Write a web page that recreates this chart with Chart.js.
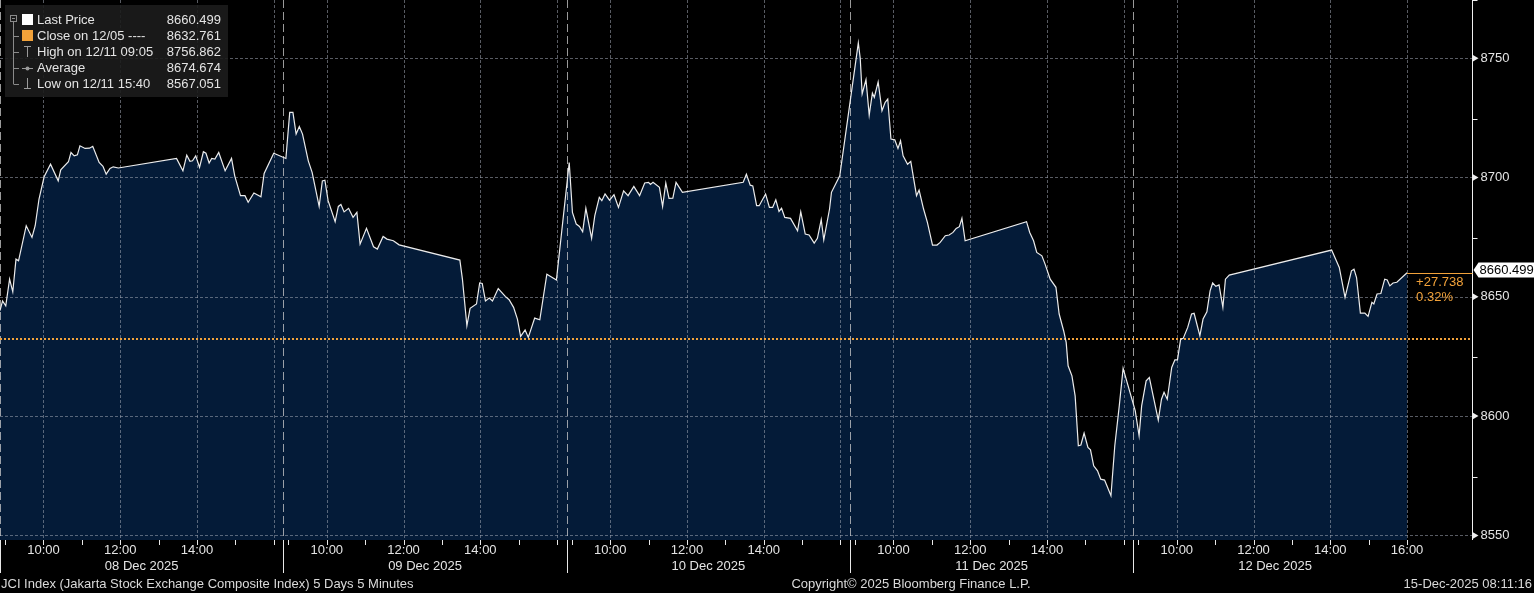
<!DOCTYPE html>
<html><head><meta charset="utf-8">
<script src="https://cdn.jsdelivr.net/npm/chart.js@4.4.1/dist/chart.umd.min.js"></script>
<style>html,body{margin:0;padding:0;background:#000;overflow:hidden}canvas{display:block}</style>
</head><body>
<canvas id="c" width="1534" height="593"></canvas>
<script>
// ---------------- DATA ----------------
const dayLabels = ['08 Dec 2025','09 Dec 2025','10 Dec 2025','11 Dec 2025','12 Dec 2025'];

const d08Times  = ['08:52','08:56','09:01','09:07','09:12','09:17','09:21','09:33','09:42','09:47','09:53','10:01','10:11','10:23','10:27','10:39','10:43','10:48','10:53','10:57','11:05','11:12','11:17','11:27','11:33','11:38','11:44','11:49','11:57','13:28','13:38','13:44','13:49','13:53','13:58','14:04','14:10','14:14','14:19','14:23','14:28','14:34','14:44','14:54','14:59','15:08','15:15','15:20','15:29','15:40','15:45','16:00'];
const d08Prices = [8644.6,8648.7,8646.6,8657.8,8652.5,8666.2,8665.5,8680.2,8675.3,8680.2,8691.4,8700.7,8706.0,8699.0,8703.6,8707.0,8710.9,8709.5,8709.9,8713.7,8712.6,8712.7,8713.5,8706.7,8705.1,8701.8,8704.2,8704.9,8704.4,8708.4,8703.2,8709.8,8707.2,8707.4,8709.5,8704.7,8711.2,8710.6,8706.5,8708.4,8708.1,8710.9,8703.2,8708.4,8701.1,8692.8,8692.8,8690.0,8693.9,8692.3,8702.1,8710.6];

const d09Times  = ['08:56','09:02','09:07','09:12','09:17','09:22','09:31','09:37','09:48','09:53','09:57','10:02','10:13','10:18','10:22','10:27','10:34','10:41','10:47','10:52','11:02','11:13','11:19','11:28','11:34','11:44','11:53','13:28','13:32','13:39','13:44','13:54','13:59','14:03','14:08','14:14','14:19','14:28','14:39','14:45','14:52','14:58','15:03','15:10','15:15','15:25','15:33','15:44','15:59'];
const d09Prices = [8708.4,8727.7,8727.7,8718.6,8721.8,8718.6,8707.4,8702.6,8688.3,8699.0,8699.3,8690.7,8681.9,8688.3,8689.1,8686.0,8687.5,8683.7,8685.8,8672.5,8679.1,8671.4,8670.4,8675.7,8674.6,8673.9,8672.2,8665.8,8657.8,8638.3,8645.6,8647.4,8656.2,8656.0,8648.7,8649.9,8648.7,8653.9,8650.6,8649.2,8646.0,8641.1,8633.8,8636.5,8633.4,8641.5,8640.8,8659.9,8657.5];

const d10Times  = ['08:56','09:01','09:07','09:12','09:17','09:22','09:31','09:36','09:43','09:47','09:52','09:59','10:06','10:13','10:21','10:28','10:37','10:46','10:54','11:00','11:03','11:07','11:17','11:22','11:27','11:32','11:38','11:43','11:53','13:28','13:33','13:39','13:43','13:49','13:53','14:03','14:09','14:14','14:19','14:24','14:28','14:33','14:42','14:53','14:58','15:05','15:11','15:19','15:24','15:30','15:34','15:43','15:46','15:59'];
const d10Prices = [8706.7,8685.8,8680.9,8679.9,8677.7,8687.5,8674.9,8684.4,8692.1,8690.7,8693.5,8690.9,8693.2,8687.9,8694.8,8692.8,8696.7,8692.8,8698.1,8698.4,8697.5,8698.4,8696.3,8688.3,8698.1,8691.7,8691.8,8698.4,8694.2,8698.4,8701.8,8697.2,8696.9,8688.6,8688.6,8693.5,8687.9,8687.9,8691.1,8686.2,8687.5,8683.7,8683.3,8678.1,8686.0,8676.7,8676.3,8672.9,8674.9,8682.7,8674.3,8687.2,8694.2,8701.1];

const d11Times  = ['09:00','09:05','09:08','09:11','09:17','09:22','09:27','09:30','09:36','09:42','09:47','09:51','09:56','10:02','10:07','10:11','10:15','10:22','10:27','10:36','10:40','10:47','10:53','11:01','11:08','11:13','11:21','11:27','11:33','11:38','11:43','11:47','11:52','13:28','13:33','13:39','13:44','13:52','13:57','14:05','14:14','14:19','14:26','14:30','14:33','14:39','14:44','14:49','14:53','14:58','15:04','15:08','15:13','15:19','15:24','15:30','15:34','15:40','15:46','15:53','15:59'];
const d11Prices = [8747.2,8756.862,8750.3,8735.4,8741.4,8726.6,8735.8,8734.0,8740.5,8728.4,8731.9,8733.3,8716.5,8716.2,8712.6,8715.8,8709.5,8706.0,8707.2,8692.8,8695.1,8687.2,8681.6,8672.1,8672.1,8673.2,8676.0,8676.3,8677.4,8679.1,8679.8,8683.3,8673.9,8681.9,8677.4,8673.9,8669.0,8667.6,8664.1,8657.8,8654.4,8643.2,8636.2,8631.3,8621.5,8617.3,8608.9,8588.0,8588.3,8593.3,8587.3,8586.3,8579.6,8577.5,8574.0,8573.6,8571.0,8567.051,8588.0,8604.7,8620.4];

const d12Times  = ['08:55','09:01','09:05','09:12','09:17','09:23','09:31','09:36','09:40','09:45','09:52','09:57','10:01','10:06','10:10','10:17','10:23','10:27','10:36','10:41','10:47','10:52','10:56','11:01','11:06','11:12','11:16','11:22','14:02','14:14','14:23','14:33','14:37','14:41','14:47','14:54','14:59','15:05','15:08','15:13','15:19','15:25','15:29','15:33','15:38','15:44','16:00'];
const d12Prices = [8602.6,8592.2,8604.7,8615.2,8616.6,8608.9,8598.7,8607.5,8610.4,8607.5,8620.8,8624.0,8624.0,8632.7,8633.0,8637.6,8643.2,8643.5,8634.1,8641.1,8644.1,8652.9,8656.2,8654.8,8655.4,8646.0,8657.8,8659.5,8670.0,8662.7,8650.2,8661.3,8662.0,8658.5,8643.6,8643.6,8642.2,8648.1,8647.4,8651.6,8651.8,8657.8,8657.5,8655.0,8656.2,8656.5,8660.499];

const yTickValues  = [8550, 8600, 8650, 8700, 8750];
const yTickLabels  = ['8550', '8600', '8650', '8700', '8750'];
const hourTicks    = ['09:00','10:00','11:00','12:00','13:00','14:00','15:00','16:00'];
const gridHours    = ['10:00','12:00','14:00','16:00'];
const labelHours   = ['10:00','12:00','14:00'];
const lastDayExtraLabel = '16:00';

const lastPrice    = 8660.499;
const prevClose    = 8632.761;
const changeText   = '+27.738';
const changePct    = '0.32%';
const legendLabels = ['Last Price','Close on 12/05 ----','High on 12/11 09:05','Average','Low on 12/11 15:40'];
const legendValues = ['8660.499','8632.761','8756.862','8674.674','8567.051'];
const footerLeft   = 'JCI Index (Jakarta Stock Exchange Composite Index) 5 Days 5 Minutes';
const footerCenter = 'Copyright\u00A9 2025 Bloomberg Finance L.P.';
const footerRight  = '15-Dec-2025 08:11:16';

// ---------------- LAYOUT CONSTANTS ----------------
const SESSION_START = 532;   // minutes-of-day at the left edge of each day block
const DAY_SPAN = 443;        // minutes per day block on the compressed axis
const X_MAX = 5 * DAY_SPAN + 86.5;
const Y_MIN = 8548.5, Y_MAX = 8774.8;
const FONT = '"Liberation Sans", Arial, sans-serif';
const ORANGE = '#f2a23a';
const LIGHT = '#e4e4e4';
const FILL = '#041b38';
const GRID = 'rgba(160,166,178,0.55)';

function hm(t){ const p = t.split(':').map(Number); return p[0]*60 + p[1]; }
function xv(k, t){ return k*DAY_SPAN + hm(t) - SESSION_START; }

const dayTimes  = [d08Times, d09Times, d10Times, d11Times, d12Times];
const dayPrices = [d08Prices, d09Prices, d10Prices, d11Prices, d12Prices];
const points = [];
dayTimes.forEach((ts, k) => ts.forEach((t, i) => points.push({ x: xv(k, t), y: dayPrices[k][i] })));

function seg(ctx, x1, y1, x2, y2){ ctx.beginPath(); ctx.moveTo(x1, y1); ctx.lineTo(x2, y2); ctx.stroke(); }

const bbg = {
  id: 'bbg',
  beforeDraw(c){
    const ctx = c.ctx; ctx.save(); ctx.fillStyle = '#000'; ctx.fillRect(0, 0, c.width, c.height); ctx.restore();
  },
  beforeDatasetDraw(c){
    const { ctx, chartArea: a, scales: { x, y } } = c;
    ctx.save();
    ctx.lineWidth = 1;
    ctx.strokeStyle = GRID;
    ctx.setLineDash([3, 2]);
    yTickValues.forEach(v => { const py = Math.round(y.getPixelForValue(v)) - 0.5; seg(ctx, a.left, py, a.right, py); });
    dayLabels.forEach((d, k) => gridHours.forEach(h => {
      const px = Math.round(x.getPixelForValue(xv(k, h))) + 0.5; seg(ctx, px, a.top, px, a.bottom);
    }));
    ctx.setLineDash([8, 4]);
    ctx.strokeStyle = 'rgba(205,205,205,0.75)';
    dayLabels.forEach((d, k) => { const px = Math.round(x.getPixelForValue(k*DAY_SPAN)) + 0.5; seg(ctx, px, a.top, px, a.bottom); });
    ctx.setLineDash([2, 2]);
    ctx.strokeStyle = ORANGE; ctx.lineWidth = 2;
    const cy = Math.round(y.getPixelForValue(prevClose));
    seg(ctx, a.left, cy, a.right, cy);
    ctx.restore();
  },
  afterDatasetsDraw(c){
    const { ctx, chartArea: a, scales: { x, y } } = c;
    ctx.save();
    // right value axis
    ctx.strokeStyle = '#f0f0f0'; ctx.lineWidth = 1; ctx.setLineDash([]);
    const ax = Math.round(a.right) + 0.5;
    seg(ctx, ax, 0, ax, a.bottom);
    ctx.fillStyle = '#f0f0f0';
    ctx.font = '13px ' + FONT; ctx.textBaseline = 'middle'; ctx.textAlign = 'left';
    yTickValues.forEach((v, i) => {
      const py = y.getPixelForValue(v) - 1;
      ctx.fillStyle = '#f0f0f0';
      ctx.beginPath(); ctx.moveTo(ax, py - 3.5); ctx.lineTo(ax + 6, py); ctx.lineTo(ax, py + 3.5); ctx.closePath(); ctx.fill();
      const pm = Math.round(y.getPixelForValue(v + 25)) + 0.5;
      if (pm >= 0) seg(ctx, ax, pm, ax + 5, pm);
      ctx.fillStyle = LIGHT;
      ctx.fillText(yTickLabels[i], ax + 8, py);
    });
    // last price marker
    const lx = x.getPixelForValue(points[points.length-1].x);
    const ly = Math.round(y.getPixelForValue(lastPrice)) + 0.5;
    ctx.strokeStyle = ORANGE; seg(ctx, lx, ly, ax, ly);
    ctx.fillStyle = ORANGE;
    ctx.fillText(changeText, lx + 9, ly + 9);
    ctx.fillText(changePct, lx + 9, ly + 24);
    ctx.fillStyle = '#ffffff';
    const bt = ly - 11, bb = ly + 4;
    ctx.beginPath(); ctx.moveTo(ax + 1, (bt + bb)/2); ctx.lineTo(ax + 6, bt); ctx.lineTo(c.width, bt); ctx.lineTo(c.width, bb); ctx.lineTo(ax + 6, bb); ctx.closePath(); ctx.fill();
    ctx.fillStyle = '#000'; ctx.fillText(legendValues[0], ax + 7, (bt + bb)/2 + 0.5);

    // bottom time axis
    ctx.strokeStyle = '#e8e8e8'; ctx.lineWidth = 1;
    dayLabels.forEach((d, k) => hourTicks.forEach(h => {
      const px = Math.round(x.getPixelForValue(xv(k, h))) + 0.5; seg(ctx, px, a.bottom, px, a.bottom + 5);
    }));
    dayLabels.forEach((d, k) => { const px = Math.round(x.getPixelForValue(k*DAY_SPAN)) + 0.5; seg(ctx, px, a.bottom, px, a.bottom + 33); });
    ctx.fillStyle = LIGHT; ctx.textAlign = 'center'; ctx.textBaseline = 'middle'; ctx.font = '13px ' + FONT;
    dayLabels.forEach((d, k) => {
      const hrs = k === dayLabels.length - 1 ? labelHours.concat([lastDayExtraLabel]) : labelHours;
      hrs.forEach(h => ctx.fillText(h, x.getPixelForValue(xv(k, h)), a.bottom + 10));
      ctx.fillText(d, x.getPixelForValue(k*DAY_SPAN + DAY_SPAN/2), a.bottom + 26);
    });
    // footer
    ctx.fillStyle = '#dadada';
    ctx.textAlign = 'left'; ctx.fillText(footerLeft, 1, 584);
    ctx.textAlign = 'center'; ctx.fillText(footerCenter, 911, 584);
    ctx.textAlign = 'right'; ctx.fillText(footerRight, 1532, 584);

    // legend box
    ctx.fillStyle = 'rgba(28,28,28,0.9)';
    ctx.fillRect(5, 5, 223, 92);
    const rowY = i => 20 + 16*i;
    ctx.strokeStyle = '#8a8a8a'; ctx.lineWidth = 1;
    ctx.strokeRect(10.5, 15.5, 6, 6); seg(ctx, 12, 18.5, 15, 18.5);
    seg(ctx, 13.5, 22, 13.5, rowY(4));
    for (let i = 1; i < 5; i++) seg(ctx, 13.5, Math.round(rowY(i)) + 0.5, 19, Math.round(rowY(i)) + 0.5);
    ctx.fillStyle = '#ffffff'; ctx.fillRect(22, rowY(0) - 6, 11, 11);
    ctx.fillStyle = ORANGE; ctx.fillRect(22, rowY(1) - 6, 11, 11);
    ctx.strokeStyle = '#9a9a9a';
    seg(ctx, 27.5, rowY(2) - 6, 27.5, rowY(2) + 5); seg(ctx, 24, rowY(2) - 5.5, 31, rowY(2) - 5.5);
    seg(ctx, 22, rowY(3) + 0.5, 33, rowY(3) + 0.5);
    ctx.fillStyle = '#9a9a9a'; ctx.beginPath(); ctx.arc(27.5, rowY(3) + 0.5, 2, 0, Math.PI*2); ctx.fill();
    seg(ctx, 27.5, rowY(4) - 6, 27.5, rowY(4) + 5); seg(ctx, 24, rowY(4) + 4.5, 31, rowY(4) + 4.5);
    ctx.fillStyle = LIGHT; ctx.font = '13px ' + FONT; ctx.textBaseline = 'middle';
    legendLabels.forEach((l, i) => {
      ctx.textAlign = 'left'; ctx.fillText(l, 37, rowY(i));
      ctx.textAlign = 'right'; ctx.fillText(legendValues[i], 221, rowY(i));
    });
    ctx.restore();
  }
};

new Chart(document.getElementById('c').getContext('2d'), {
  type: 'line',
  data: { datasets: [{
    data: points, borderColor: '#ececec', borderWidth: 1.2, pointRadius: 0, tension: 0,
    fill: 'start', backgroundColor: FILL
  }] },
  options: {
    responsive: false, animation: false, devicePixelRatio: 1, events: [],
    layout: { padding: 0 },
    plugins: { legend: { display: false }, tooltip: { enabled: false } },
    scales: {
      x: { type: 'linear', min: 0, max: X_MAX, grid: { display: false, drawTicks: false }, border: { display: false },
           ticks: { display: false }, afterFit: s => { s.height = 53; } },
      y: { position: 'right', min: Y_MIN, max: Y_MAX,
           afterBuildTicks: s => { s.ticks = yTickValues.map(v => ({ value: v })); },
           grid: { display: false, drawTicks: false }, border: { display: false },
           ticks: { display: false },
           afterFit: s => { s.width = 62; } }
    }
  },
  plugins: [bbg]
});
</script>
</body></html>
